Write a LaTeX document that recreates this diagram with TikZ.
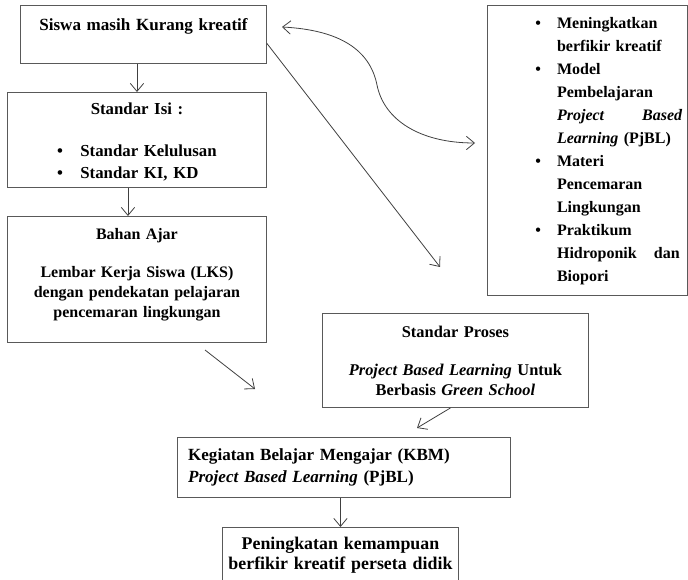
\documentclass[tikz,border=0pt]{standalone}
\usepackage{fontspec}
\setmainfont{Liberation Serif}
\usetikzlibrary{arrows.meta}

\begin{document}
\begin{tikzpicture}[x=0.75pt,y=-0.75pt, >={Straight Barb[length=6pt,width=10pt]},
  box/.style={draw=black!65,line width=0.7pt,inner sep=0pt,anchor=north west,align=center,font=\bfseries\fontsize{12}{15}\selectfont},
  arr/.style={->,draw=black!75,line width=0.6pt}]
\useasboundingbox (0,0) rectangle (688,580);
\clip (0,0) rectangle (688,580);
\node (siswa) [box,text width=184.5pt,minimum height=43.5pt,font=\bfseries\fontsize{12.8}{15}\selectfont] at (20,5) {Siswa masih Kurang kreatif\\ \mbox{}};
\node (isi) [box,text width=194.25pt,minimum height=71.25pt,font=\bfseries\fontsize{12.6}{16.5}\selectfont] at (7,92) {\rule{0pt}{15pt}Standar Isi :\\[19pt]
  \begin{tabular}{@{}l@{\hspace{13pt}}l@{}}
  \textbullet & Standar Kelulusan\\
  \textbullet & Standar KI, KD
  \end{tabular}};
\node (bahan) [box,text width=194.25pt,minimum height=94.5pt] at (7,216) {Bahan Ajar\\[14pt]
  Lembar Kerja Siswa (LKS)\\ dengan pendekatan pelajaran\\ pencemaran lingkungan\rule[-10pt]{0pt}{1pt}};
\node (tujuan) [box,text width=150pt,minimum height=217.5pt,align=left,font=\bfseries\fontsize{12}{17.25}\selectfont] at (487,5) {\hspace*{36pt}%
  \begin{tabular}{@{}l@{\hspace{12pt}}l@{}}
  \textbullet & Meningkatkan\\
   & berfikir kreatif\\
  \textbullet & Model\\
   & Pembelajaran\\
   & \hbox to 94pt{\textit{Project}\hfill\textit{Based}}\\
   & \textit{Learning} (PjBL)\\
  \textbullet & Materi\\
   & Pencemaran\\
   & Lingkungan\\
  \textbullet & Praktikum\\
   & \hbox to 92pt{Hidroponik\hfill dan}\\
   & Biopori
  \end{tabular}};
\node (proses) [box,text width=199.5pt,minimum height=70.5pt,font=\bfseries\fontsize{12.3}{15}\selectfont] at (322,313) {Standar Proses\\[13.5pt]
  \textit{Project Based Learning} Untuk\\ Berbasis \textit{Green School}};
\node (kbm) [box,text width=233.75pt,minimum height=45pt,inner xsep=8pt,align=left,font=\bfseries\fontsize{12.8}{16.5}\selectfont] at (177,437) {Kegiatan Belajar Mengajar (KBM)\\ \textit{Project Based Learning} (PjBL)};
\node (hasil) [box,text width=177pt,minimum height=42pt,font=\bfseries\fontsize{13.4}{15}\selectfont] at (222,527) {Peningkatan kemampuan\\ berfikir kreatif perseta didik};
% free ends
\coordinate (ujung1) at (440,267);
\coordinate (awal2) at (205,350);
\coordinate (ujung2) at (255,389);
\coordinate (ujung3) at (417,428);
\coordinate (kiri) at (282,27);
\coordinate (kanan) at (475,143);
\draw[arr] (siswa.south -| isi.north) -- (isi.north);
\draw[arr] ([xshift=-6.75pt]isi.south) -- ([xshift=-6.75pt]bahan.north);
\draw[arr] ([yshift=-6.75pt]siswa.east) -- (ujung1);
\draw[arr] (awal2) -- (ujung2);
\draw[arr] ([xshift=-3.75pt]proses.south) -- (ujung3);
\draw[arr] (kbm.south -| hasil.north) -- (hasil.north);
\draw[arr,<->] (kiri) .. controls (340,30) and (370,50) .. (377,85) .. controls (384,120) and (420,143) .. (kanan);
\end{tikzpicture}
\end{document}
